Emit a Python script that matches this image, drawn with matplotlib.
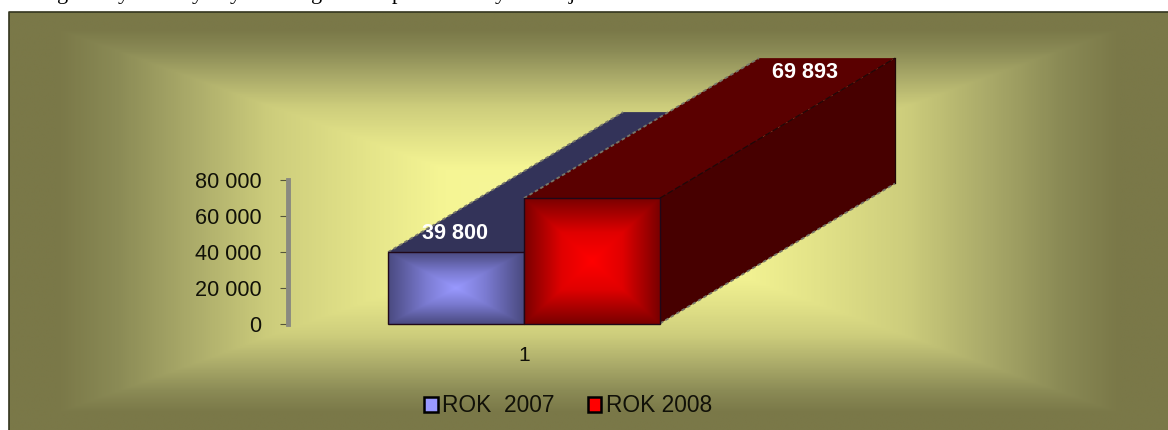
import numpy as np
import matplotlib
matplotlib.use("Agg")
import matplotlib.pyplot as plt
from matplotlib.colors import LinearSegmentedColormap
from matplotlib.patches import Polygon, Patch

# chart values
categories = ["1"]
series_names = ["ROK  2007", "ROK 2008"]
series_values = [39800, 69893]
value_labels = ["39 800", "69 893"]
y_ticks = [0, 20000, 40000, 60000, 80000]
y_tick_labels = ["0", "20 000", "40 000", "60 000", "80 000"]
clipped_line = ["g", "y", "y", "y", "g", "p", "y", "j"]

W, H = 1168, 430
plt.rcParams['font.family'] = ['Liberation Sans', 'DejaVu Sans']

fig = plt.figure(figsize=(W/100, H/100), dpi=100, facecolor="white")


def path_gradient(n=300):
    # rectangular gradient, 0 in the middle and 1 on the border
    u = np.abs(np.linspace(-1, 1, n))
    return np.maximum.outer(u, u)


# background of the chart area
bg_cmap = LinearSegmentedColormap.from_list("bg", [(0, "#f8f89c"), (0.25, "#f5f594"), (0.4, "#e2e288"), (0.55, "#cdcd7c"),
                                                   (0.7, "#a8a868"), (0.82, "#8a8a55"), (0.92, "#7a7848"), (1, "#7a7848")])
bg = fig.add_axes([0, 0, 1, 1], zorder=0)
bg.set_xlim(0, W)
bg.set_ylim(H, 0)
bg.axis("off")
bg.imshow(path_gradient(), cmap=bg_cmap, vmin=0, vmax=1, extent=(9, W, H, 12), aspect="auto", interpolation="bilinear")
bg.plot([9, 9, W], [H, 12, 12], color="#33351f", lw=1.2)

# first text line of the page, only the bottom of it is visible
for letter, x in zip(clipped_line, [63, 123, 197, 235, 317, 397, 500, 572]):
    bg.text(x, -1, letter, family="Liberation Serif", fontsize=16, color="black", ha="center", va="baseline", clip_on=False)

# plot axes
left, right, y0, y80 = 288, 760, 323.5, 180
ax = fig.add_axes([left/W, 1-y0/H, (right-left)/W, (y0-y80)/H], zorder=1)
ax.patch.set_alpha(0)
for s in ["top", "right", "bottom"]:
    ax.spines[s].set_visible(False)
ax.spines["left"].set_color("#8a8a80")
ax.spines["left"].set_linewidth(3.5)
ax.set_yticks(y_ticks)
ax.set_yticklabels(y_tick_labels, fontsize=15.6, color="#111108", va="center_baseline")
ax.tick_params(axis="y", length=6, width=0.8, color="#55553a", pad=13)
ax.set_xticks([1])
ax.set_xticklabels(categories, fontsize=15, color="#111108")
ax.tick_params(axis="x", length=0, pad=16)

bar_w = 0.288
depth_x = 0.498
depth_y = 78050
front_maps = [
    LinearSegmentedColormap.from_list("blue", [(0, "#9999ff"), (0.45, "#7a7ad0"), (1, "#4a4a80")]),
    LinearSegmentedColormap.from_list("red", [(0, "#ff0000"), (0.45, "#e00000"), (1, "#7a0000")]),
]
top_colors = ["#333359", "#5a0000"]
side_colors = ["#2a2a4c", "#470000"]
label_dx = [0.142, 0.595]
label_dy = [10500, 69800]

for i, (val, label) in enumerate(zip(series_values, value_labels)):
    x0 = 1 - bar_w + i*bar_w
    x1 = x0 + bar_w
    z = 2 + i*2
    # shadowed faces going back
    ax.add_patch(Polygon([(x0, val), (x0+depth_x, val+depth_y), (x1+depth_x, val+depth_y), (x1, val)],
                         fc=top_colors[i], ec="none", clip_on=False, zorder=z))
    ax.add_patch(Polygon([(x1, 0), (x1+depth_x, depth_y), (x1+depth_x, val+depth_y), (x1, val)],
                         fc=side_colors[i], ec="none", clip_on=False, zorder=z))
    # rough grey outer edges and the dark ridge
    ax.plot([x0, x0+depth_x], [val, val+depth_y], color="#77776a", lw=1.3, ls=(0, (2, 1.5)), clip_on=False, zorder=z)
    ax.plot([x1, x1+depth_x], [0, depth_y], color="#77776a", lw=1.3, ls=(0, (2, 1.5)), clip_on=False, zorder=z)
    ax.plot([x1, x1+depth_x], [val, val+depth_y], color="#200808", lw=0.9, ls=(0, (5, 2)), clip_on=False, zorder=z)
    ax.plot([x1+depth_x, x1+depth_x], [depth_y, val+depth_y], color="#200808", lw=0.9, clip_on=False, zorder=z)
    ax.imshow(path_gradient(), cmap=front_maps[i], vmin=0, vmax=1, extent=(x0, x1, 0, val),
              aspect="auto", interpolation="bilinear", zorder=z+1, clip_on=False)
    ax.add_patch(Polygon([(x0, 0), (x0, val), (x1, val), (x1, 0)], fc="none", ec="#200818", lw=1.0,
                         clip_on=False, zorder=z+1))
    ax.text(x0+label_dx[i], val+label_dy[i], label, color="white", fontsize=15.6, fontweight="bold",
            ha="center", va="center", zorder=8)

# imshow resets the limits
ax.set_xlim(0.5, 1.5)
ax.set_ylim(0, 80000)

handles = [Patch(fc=c, ec="black", lw=1.8) for c in ["#9999ff", "#ff0000"]]
ax.legend(handles, series_names, loc="center", bbox_to_anchor=((568-left)/(right-left), -(406-y0)/(y0-y80)),
          ncol=2, frameon=False, fontsize=16.4, handlelength=0.6, handleheight=0.6,
          handletextpad=0.2, columnspacing=1.45, labelcolor="#111108", borderpad=0)

fig.savefig("out.png", dpi=100)
